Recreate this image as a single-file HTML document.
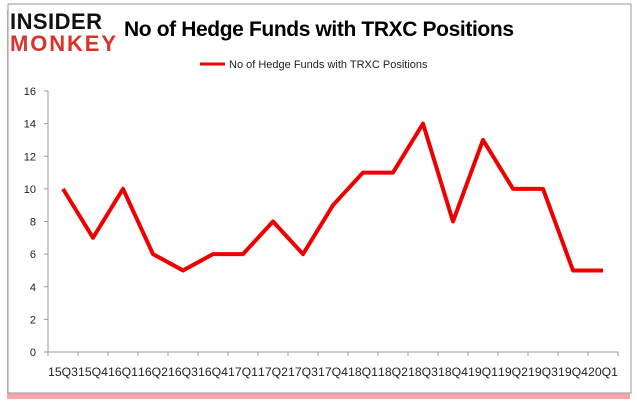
<!DOCTYPE html>
<html><head><meta charset="utf-8"><style>
body{margin:0;width:637px;height:408px;background:#fff;font-family:"Liberation Sans",sans-serif;overflow:hidden}
</style></head><body>
<svg width="637" height="408">
<rect x="9" y="6" width="623" height="389" fill="#e00" opacity="0.35" transform="translate(-2,4)"/>
<rect x="8" y="4" width="623" height="389" fill="#fff" stroke="#999"/>
<g>
<text x="10" y="29" font-size="22" font-weight="bold" fill="#111" textLength="92">INSIDER</text>
<text x="10" y="51" font-size="22" font-weight="bold" fill="#d9342b" textLength="106">MONKEY</text>
</g>
<text x="124" y="36" font-size="21" font-weight="bold" fill="#000" textLength="390">No of Hedge Funds with TRXC Positions</text>
<line x1="200" y1="64" x2="225" y2="64" stroke="#e00" stroke-width="3"/>
<text x="229" y="68" font-size="11" fill="#222">No of Hedge Funds with TRXC Positions</text>
<g id="axes"></g>
<polyline id="line" fill="none" stroke="#e00" stroke-width="4" stroke-linejoin="round"/>
</svg>
<script>
const categories=["15Q3","15Q4","16Q1","16Q2","16Q3","16Q4","17Q1","17Q2","17Q3","17Q4","18Q1","18Q2","18Q3","18Q4","19Q1","19Q2","19Q3","19Q4","20Q1"];
const values=[10,7,10,6,5,6,6,8,6,9,11,11,14,8,13,10,10,5,5];
const yTicks=[0,2,4,6,8,10,12,14,16];
const X0=48,X1=618,Y0=352,Y1=91,ymax=16;
const bw=(X1-X0)/categories.length;
const xs=i=>X0+bw*(i+0.5);
const ys=v=>Y0-(Y0-Y1)*v/ymax;
const ns="http://www.w3.org/2000/svg";
const g=document.getElementById('axes');
function mk(t,a){const e=document.createElementNS(ns,t);for(const k in a)e.setAttribute(k,a[k]);g.appendChild(e);return e;}
const ya=mk('line',{x1:X0,y1:Y1,x2:X0,y2:Y0,stroke:'#999'});


const xa=mk('line',{x1:X0,y1:Y0,x2:X1,y2:Y0,stroke:'#999'});


yTicks.forEach(v=>{
 const tk=mk('line',{x1:X0-4,y1:ys(v),x2:X0,y2:ys(v),stroke:'#999'});
 
 
 const t=mk('text',{x:X0-12,y:ys(v)+4,'font-size':11,'text-anchor':'end',fill:'#222'});
 t.textContent=v;
 
 
});
categories.forEach((c,i)=>{
 const tk=mk('line',{x1:X0+bw*i,y1:Y0,x2:X0+bw*i,y2:Y0+4,stroke:'#999'});
 
 
 const t=mk('text',{x:xs(i)-bw/2,y:376,'font-size':11.5,textLength:bw,lengthAdjust:'spacingAndGlyphs',fill:'#222'});
 t.textContent=c;
 
 
});
const lt=mk('line',{x1:X1,y1:Y0,x2:X1,y2:Y0+4,stroke:'#999'});


document.getElementById('line').setAttribute('points',values.map((v,i)=>xs(i)+','+ys(v)).join(' '));
</script>
</body></html>
